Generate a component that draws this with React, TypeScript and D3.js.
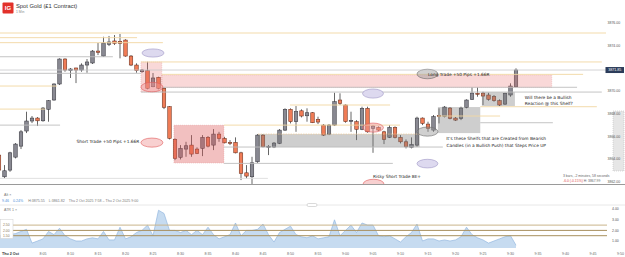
import React from "react";
import * as d3 from "d3";

const W = 625;
const H = 257;

// one bar per minute, first bar is 7:57 (minute -3 from 8:00)
const firstMinute = -3;
const opens = [
  3864.36, 3862.45, 3863.04, 3864.18, 3865.15, 3866.48, 3867.36, 3867.62, 3867.38, 3868.39,
  3869.21, 3870.62, 3872.82, 3871.79, 3872.03, 3871.85, 3872.29, 3872.47, 3873.52, 3873.08,
  3874.11, 3874.41, 3874.38, 3874.49, 3873.08, 3872.29, 3871.70, 3871.79, 3870.38, 3871.21,
  3870.24, 3868.62, 3865.74, 3864.16, 3864.89, 3865.24, 3864.89, 3864.95, 3865.92, 3865.24,
  3866.21, 3865.83, 3865.48, 3865.48, 3864.56, 3862.80, 3862.45, 3863.77, 3866.12, 3865.09,
  3865.07, 3865.39, 3866.56, 3868.39, 3867.30, 3868.26, 3867.82, 3868.09, 3867.51, 3867.00,
  3866.21, 3867.00, 3869.21, 3868.77, 3867.38, 3867.30, 3866.63, 3868.48, 3866.71, 3866.80,
  3866.41, 3865.92, 3866.80, 3865.92, 3865.53, 3865.04, 3865.24, 3867.62, 3867.09, 3866.56,
  3867.86, 3867.74, 3868.50, 3867.62, 3867.59, 3868.56, 3869.27, 3869.80, 3869.82, 3869.65,
  3869.50, 3869.15, 3868.85, 3869.65, 3870.38,
];
const highs = [
  3864.54, 3863.48, 3864.65, 3865.42, 3866.56, 3868.18, 3867.80, 3867.71, 3868.59, 3869.21,
  3870.68, 3872.88, 3872.88, 3872.03, 3872.05, 3872.44, 3872.82, 3873.61, 3874.23, 3874.78,
  3874.85, 3874.93, 3875.02, 3874.56, 3873.17, 3872.44, 3871.94, 3872.58, 3871.59, 3871.26,
  3870.33, 3868.68, 3865.83, 3865.24, 3865.53, 3866.12, 3865.04, 3866.12, 3866.04, 3866.65,
  3866.41, 3865.97, 3865.68, 3865.92, 3864.65, 3863.48, 3864.21, 3866.21, 3866.21, 3865.24,
  3865.51, 3866.65, 3868.48, 3868.48, 3868.68, 3868.39, 3868.48, 3868.15, 3867.74, 3867.09,
  3867.09, 3869.85, 3869.80, 3868.83, 3868.18, 3867.44, 3868.62, 3868.62, 3867.00, 3866.89,
  3866.50, 3867.00, 3866.89, 3866.12, 3865.74, 3865.92, 3867.74, 3867.68, 3867.30, 3867.89,
  3868.48, 3868.68, 3868.59, 3867.71, 3868.62, 3869.27, 3870.33, 3870.33, 3869.94, 3869.85,
  3869.65, 3869.27, 3869.85, 3870.68, 3872.00,
];
const lows = [
  3862.86, 3862.33, 3862.89, 3864.07, 3864.89, 3866.30, 3867.18, 3866.92, 3867.30, 3867.30,
  3869.15, 3870.53, 3871.70, 3871.15, 3870.70, 3871.70, 3871.61, 3872.38, 3873.17, 3873.02,
  3873.96, 3874.05, 3872.88, 3873.02, 3872.20, 3871.61, 3871.61, 3870.15, 3870.33, 3870.15,
  3868.41, 3865.74, 3863.92, 3863.98, 3864.21, 3864.21, 3864.45, 3864.27, 3865.04, 3864.80,
  3865.53, 3865.39, 3865.24, 3864.51, 3862.16, 3862.31, 3861.82, 3863.68, 3865.04, 3864.36,
  3864.98, 3865.33, 3866.48, 3867.15, 3866.41, 3867.68, 3867.30, 3867.18, 3867.09, 3866.04,
  3866.12, 3866.92, 3868.77, 3867.21, 3866.41, 3865.68, 3866.56, 3866.33, 3864.56, 3866.48,
  3865.33, 3865.86, 3865.83, 3865.39, 3864.95, 3864.95, 3865.09, 3867.00, 3866.41, 3866.41,
  3867.15, 3867.68, 3867.51, 3867.36, 3867.44, 3868.48, 3869.21, 3869.50, 3868.77, 3869.15,
  3869.06, 3868.68, 3868.77, 3869.50, 3870.33,
];
const closes = [
  3863.04, 3862.98, 3864.56, 3865.33, 3866.41, 3867.36, 3867.62, 3867.38, 3868.50, 3869.15,
  3870.62, 3872.82, 3871.85, 3871.94, 3871.85, 3872.29, 3872.56, 3873.52, 3873.41, 3874.23,
  3874.32, 3874.20, 3874.20, 3873.08, 3872.29, 3871.79, 3871.85, 3870.24, 3871.15, 3870.24,
  3868.56, 3865.83, 3864.07, 3864.95, 3865.18, 3864.45, 3864.51, 3865.92, 3865.15, 3866.21,
  3865.83, 3865.44, 3865.44, 3864.56, 3862.75, 3862.51, 3863.68, 3866.12, 3865.09, 3865.13,
  3865.42, 3866.56, 3868.39, 3867.30, 3868.18, 3867.80, 3868.09, 3867.21, 3867.27, 3866.12,
  3867.00, 3869.06, 3868.92, 3867.30, 3867.42, 3866.63, 3868.48, 3866.41, 3866.92, 3866.56,
  3865.74, 3866.80, 3865.92, 3865.53, 3865.09, 3865.30, 3867.62, 3867.15, 3866.71, 3867.74,
  3867.82, 3868.59, 3867.59, 3867.44, 3868.50, 3869.21, 3869.82, 3869.77, 3869.56, 3869.27,
  3869.15, 3868.77, 3869.80, 3870.44, 3871.85,
];
const atr = [
  1.5, 1.5, 1.6, 1.7, 1.9, 2.1, 0.8, 1.0, 1.2, 1.9,
  1.6, 2.2, 1.5, 1.2, 1.0, 1.0, 1.2, 1.3, 1.2, 1.9,
  1.1, 1.1, 2.3, 1.2, 1.4, 1.8, 2.0, 2.5, 1.5, 3.9,
  3.6, 2.0, 2.0, 1.8, 2.0, 1.6, 2.0, 1.6, 2.3, 1.6,
  1.2, 1.4, 1.6, 2.7, 1.5, 2.0, 2.0, 2.1, 2.6, 1.6,
  0.9, 1.8, 2.1, 2.4, 1.6, 1.4, 1.3, 1.5, 1.2, 1.3,
  1.4, 3.0, 1.5, 2.0, 2.5, 1.8, 2.7, 2.5, 2.5, 1.5,
  1.4, 1.5, 1.2, 0.9, 1.4, 1.8, 2.6, 1.0, 1.2, 1.2,
  1.0, 1.1, 1.0, 1.1, 1.4, 2.3, 1.6, 1.3, 1.1, 0.8,
  1.0, 1.2, 1.4, 1.5, 0.6,
];

const lastPrice = 3871.85;
const priceTicks = [3876, 3874, 3870, 3868, 3866, 3864, 3862];
const timeTicks = ["8:05", "8:10", "8:15", "8:20", "8:25", "8:30", "8:35", "8:40", "8:45", "8:50", "8:55",
  "9:00", "9:05", "9:10", "9:15", "9:20", "9:25", "9:30", "9:35", "9:40", "9:45", "9:50"];
const atrTicks = [4, 3, 2, 1];
const atrLevels = [2.5, 2.0, 1.5];

// drawings on the chart, in minutes after 8:00 and price
const levels = [
  { price: 3875.11, from: -3, to: 111, kind: "tan" },
  { price: 3874.70, from: -3, to: 22.1, kind: "tan" },
  { price: 3874.26, from: -3, to: 26.8, kind: "tan" },
  { price: 3873.02, from: -3, to: 17.7, kind: "gray" },
  { price: 3872.56, from: 22.8, to: 106.6, kind: "tan" },
  { price: 3871.56, from: -3, to: 22.8, kind: "gray" },
  { price: 3871.47, from: 26.6, to: 103.2, kind: "tan" },
  { price: 3870.44, from: -3, to: 7.5, kind: "tan" },
  { price: 3870.33, from: 26.6, to: 102.1, kind: "gray" },
  { price: 3869.91, from: 22.8, to: 106.6, kind: "gray" },
  { price: 3868.77, from: 49.9, to: 68.1, kind: "tan" },
  { price: 3868.62, from: 84.5, to: 105.7, kind: "tan" },
  { price: 3868.41, from: -3, to: 5.4, kind: "tan" },
  { price: 3867.80, from: 76.8, to: 88.1, kind: "tan" },
  { price: 3867.21, from: 84.5, to: 97.7, kind: "gray" },
  { price: 3867.00, from: -3, to: 8.1, kind: "gray" },
  { price: 3867.00, from: 37.9, to: 69.9, kind: "tan" },
  { price: 3865.07, from: 37.9, to: 77.7, kind: "gray" },
  { price: 3863.63, from: 37.9, to: 68.6, kind: "gray" },
  { price: 3862.31, from: -3, to: 45.9, kind: "light" },
];
const zones = [
  { from: 26.6, to: 97.5, top: 3871.41, bottom: 3870.31, kind: "pink" },
  { from: 22.8, to: 26.6, top: 3872.56, bottom: 3869.91, kind: "pink" },
  { from: 28.8, to: 37.9, top: 3867.0, bottom: 3863.66, kind: "pinkDark" },
  { from: 44.1, to: 73.5, top: 3866.21, bottom: 3865.07, kind: "shelf" },
  { from: 76.8, to: 84.5, top: 3868.59, bottom: 3866.3, kind: "shelf" },
  { from: 84.8, to: 90.8, top: 3869.91, bottom: 3868.68, kind: "shelf" },
];
const rings = [
  { t: 25.0, price: 3873.35, rt: 2.0, rp: 0.36, kind: "lav" },
  { t: 65.0, price: 3869.78, rt: 1.9, rp: 0.4, kind: "lav" },
  { t: 74.9, price: 3863.61, rt: 1.9, rp: 0.38, kind: "lav" },
  { t: 74.9, price: 3871.5, rt: 1.9, rp: 0.42, kind: "gray" },
  { t: 74.9, price: 3866.43, rt: 1.9, rp: 0.4, kind: "gray" },
  { t: 24.8, price: 3870.35, rt: 2.0, rp: 0.42, kind: "red" },
  { t: 24.8, price: 3865.46, rt: 2.0, rp: 0.4, kind: "red" },
  { t: 65.0, price: 3866.78, rt: 1.9, rp: 0.4, kind: "red" },
  { t: 65.1, price: 3861.81, rt: 1.9, rp: 0.42, kind: "red" },
];
const notes = [
  { t: 75.0, price: 3871.5, text: "Long Trade +50 Pips +1.66R", anchor: "start" },
  { t: 22.5, price: 3865.53, text: "Short Trade +50 Pips +1.66R", anchor: "end" },
  { t: 65.0, price: 3862.51, text: "Risky Short Trade BE+", anchor: "start" },
  { t: 87.4, price: 3865.81, text: "It's these Shelfs that are Created from Bearish", anchor: "middle" },
  { t: 87.4, price: 3865.24, text: "Candles (in a Bullish Push) that Steps Price UP", anchor: "middle" },
  { t: 92.6, price: 3869.44, text: "Will there be a Bullish", anchor: "start" },
  { t: 92.6, price: 3868.92, text: "Reaction @ this Shelf?", anchor: "start" },
];

const x = d3.scaleLinear().domain([0, 110]).range([15.5, 620.5]);
const y = d3.scaleLinear().domain([3862, 3876]).range([181.9, 22.9]);
const yAtr = d3.scaleLinear().domain([1, 4]).range([241, 209.2]);

const levelColor: Record<string, string> = { tan: "#f2d7a2", gray: "#bdbdbd", light: "#dedede" };
const zoneFill: Record<string, string> = {
  pink: "rgba(232,100,100,0.25)",
  pinkDark: "rgba(222,90,90,0.38)",
  shelf: "rgba(120,120,120,0.36)",
};
const ringStyle: Record<string, { fill: string; stroke: string }> = {
  lav: { fill: "#ddd9ef", stroke: "#9f97c6" },
  red: { fill: "rgba(240,150,150,0.45)", stroke: "#e05a5a" },
  gray: { fill: "rgba(150,150,150,0.45)", stroke: "#6a6a6a" },
};

const sans = "Liberation Sans, Arial, sans-serif";
const hand = "DejaVu Sans, sans-serif";

export default function App() {
  const bars = opens.map((o, i) => ({
    t: firstMinute + i,
    o,
    h: highs[i],
    l: lows[i],
    c: closes[i],
  }));
  const bodyW = 3.5;
  const paneBottom = 184.5;
  const atrBottom = 248;

  const area = d3
    .area<number>()
    .x((_, i) => x(firstMinute + i))
    .y0(atrBottom)
    .y1((d) => Math.min(yAtr(d), atrBottom - 0.5));
  const line = d3
    .line<number>()
    .x((_, i) => x(firstMinute + i))
    .y((d) => Math.min(yAtr(d), atrBottom - 0.5));

  return (
    <div style={{ position: "absolute", left: 0, top: 0 }}>
      <svg width={W} height={H} style={{ display: "block", background: "#fff" }}>
        <defs>
          <clipPath id="mainClip">
            <rect x={0} y={0} width={606} height={paneBottom} />
          </clipPath>
        </defs>

        {/* header */}
        <rect x={2.5} y={2.5} width={11} height={11} rx={1} fill="#e2312a" />
        <text x={8} y={10.3} textAnchor="middle" fontSize={6} fontWeight="bold" fill="#fff" fontFamily={sans}>
          IG
        </text>
        <text x={16} y={8} fontSize={5.8} fill="#333" fontFamily={sans}>
          Spot Gold (£1 Contract)
        </text>
        <text x={16} y={12.6} fontSize={3.4} fill="#888" fontFamily={sans}>
          1 Min
        </text>

        <g clipPath="url(#mainClip)">
          {/* candles */}
          {bars.map((b) => {
            const up = b.c >= b.o;
            const cx = x(b.t);
            const top = y(Math.max(b.o, b.c));
            const bot = y(Math.min(b.o, b.c));
            return (
              <g key={b.t}>
                <line x1={cx} x2={cx} y1={y(b.h)} y2={y(b.l)} stroke="#333" strokeWidth={0.75} />
                <rect
                  x={cx - bodyW / 2}
                  y={top}
                  width={bodyW}
                  height={Math.max(bot - top, 1)}
                  fill={up ? "#898992" : "#f07c57"}
                  stroke={up ? "#36363e" : "#6b2f1c"}
                  strokeWidth={0.55}
                />
              </g>
            );
          })}

          {/* zones drawn over the bars */}
          {zones.map((z, i) => (
            <rect
              key={i}
              x={x(z.from)}
              y={y(z.top)}
              width={x(z.to) - x(z.from)}
              height={y(z.bottom) - y(z.top)}
              fill={zoneFill[z.kind]}
              stroke={z.kind === "shelf" ? "none" : "rgba(220,120,120,0.5)"}
              strokeWidth={0.5}
              strokeDasharray="1 1"
            />
          ))}

          {/* level lines */}
          {levels.map((lv, i) => (
            <line
              key={i}
              x1={x(lv.from)}
              x2={x(lv.to)}
              y1={y(lv.price)}
              y2={y(lv.price)}
              stroke={levelColor[lv.kind]}
              strokeWidth={0.9}
            />
          ))}
          <line x1={x(44.1)} x2={x(73.5)} y1={y(3866.21)} y2={y(3866.21)} stroke="#f0c890" strokeWidth={0.7} strokeDasharray="1.5 1" />

          {/* ellipses */}
          {rings.map((r, i) => (
            <ellipse
              key={i}
              cx={x(r.t)}
              cy={y(r.price)}
              rx={x(r.t + r.rt) - x(r.t)}
              ry={y(r.price - r.rp) - y(r.price)}
              fill={ringStyle[r.kind].fill}
              stroke={ringStyle[r.kind].stroke}
              strokeWidth={0.6}
            />
          ))}

          {/* notes */}
          {notes.map((n, i) => (
            <text
              key={i}
              x={x(n.t)}
              y={y(n.price)}
              dy="0.35em"
              textAnchor={n.anchor as any}
              fontSize={4.3}
              fill="#1c1c1c"
              fontFamily={hand}
            >
              {n.text}
            </text>
          ))}

          {/* current price line */}
          <line x1={0} x2={606} y1={y(lastPrice)} y2={y(lastPrice)} stroke="#c8c8cc" strokeWidth={0.8} />
        </g>

        {/* price axis */}
        <rect x={613} y={111} width={11} height={60} fill="#e6e6e6" stroke="#b5b5b5" strokeWidth={0.5} strokeDasharray="1 1" />
        {priceTicks.map((p) => (
          <text key={p} x={607.5} y={y(p)} dy="0.35em" fontSize={3.5} fill="#555" fontFamily={sans}>
            {p.toFixed(2)}
          </text>
        ))}
        <rect x={605.5} y={y(lastPrice) - 3} width={18.5} height={6} fill="#2c3c5a" />
        <text x={614.7} y={y(lastPrice)} dy="0.35em" textAnchor="middle" fontSize={3.6} fill="#fff" fontFamily={sans}>
          {lastPrice.toFixed(2)}
        </text>

        {/* measurement readout */}
        <text x={563} y={176.5} fontSize={3.4} fill="#666" fontFamily={sans}>
          3 bars, -2 minutes, 58 seconds
        </text>
        <text x={563} y={182} fontSize={3.4} fill="#666" fontFamily={sans}>
          <tspan fill="#e0504c">-6.0 (-0.15%)</tspan> H: 3867.99
        </text>

        {/* pane border */}
        <line x1={0} x2={W} y1={paneBottom} y2={paneBottom} stroke="#9a9a9a" strokeWidth={1} />

        {/* info rows */}
        <text x={4} y={195.5} fontSize={3.6} fill="#777" fontFamily={sans}>
          Alt ×
        </text>
        <text x={2} y={202} fontSize={3.6} fill="#777" fontFamily={sans}>
          <tspan fill="#4a8fd8">9.46</tspan>
          <tspan dx={4} fill="#4a8fd8">0.24%</tspan>
          <tspan dx={5}>H:3875.55</tspan>
          <tspan dx={4}>L:3861.82</tspan>
          <tspan dx={4}>Thu 2 Oct 2025 7:58 – Thu 2 Oct 2025 9:00</tspan>
        </text>
        <line x1={0} x2={W} y1={205} y2={205} stroke="#e2e2e2" strokeWidth={0.8} />
        <rect x={307} y={203.5} width={10} height={3} rx={1.5} fill="#fff" stroke="#b5b5b5" strokeWidth={0.5} />

        {/* ATR pane */}
        <text x={4} y={211} fontSize={3.6} fill="#777" fontFamily={sans}>
          ATR 1 ×
        </text>
        <path d={area(atr) || ""} fill="#c6dbf0" />
        <path d={line(atr) || ""} fill="none" stroke="#93b8df" strokeWidth={0.7} />
        {atrLevels.map((v, i) => (
          <line key={v} x1={13} x2={607} y1={yAtr(v)} y2={yAtr(v)} stroke={i === 0 ? "#c9b48a" : "#a8905e"} strokeWidth={1} />
        ))}
        <rect x={0.5} y={219.5} width={12.5} height={19} fill="#fff" stroke="#cfcfcf" strokeWidth={0.5} />
        {atrLevels.map((v) => (
          <text key={v} x={3} y={yAtr(v)} dy="0.35em" fontSize={3.4} fill="#8a7550" fontFamily={sans}>
            {v.toFixed(2)}
          </text>
        ))}
        {atrTicks.map((v) => (
          <text key={v} x={612} y={yAtr(v)} dy="0.35em" fontSize={3.5} fill="#555" fontFamily={sans}>
            {v.toFixed(2)}
          </text>
        ))}

        {/* time axis */}
        <text x={2} y={254.5} fontSize={3.7} fontWeight="bold" fill="#333" fontFamily={sans}>
          Thu 2 Oct
        </text>
        {timeTicks.map((t, i) => (
          <text key={t} x={x(5 * (i + 1))} y={254.5} textAnchor="middle" fontSize={3.6} fill="#666" fontFamily={sans}>
            {t}
          </text>
        ))}
      </svg>
    </div>
  );
}
